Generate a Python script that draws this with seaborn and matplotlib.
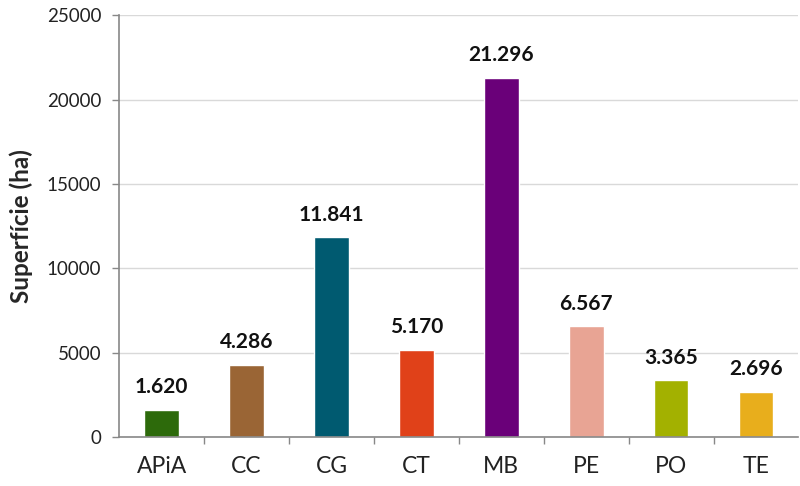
import matplotlib
matplotlib.use("Agg")
import matplotlib.pyplot as plt
import seaborn as sns
import pandas as pd

categories = ["APiA", "CC", "CG", "CT", "MB", "PE", "PO", "TE"]
areas = [1620, 4286, 11841, 5170, 21296, 6567, 3365, 2696]
colors = ["#2D6A0B", "#9A6535", "#005A70", "#E04119", "#6A0079",
          "#E8A494", "#A3B100", "#E8AE1C"]
y_ticks = [0, 5000, 10000, 15000, 20000, 25000]

sns.set_theme(style="white")
plt.rcParams["font.family"] = ["Lato", "DejaVu Sans"]

df = pd.DataFrame({"cat": categories, "area": areas})

fig = plt.figure(figsize=(8, 4.86), dpi=100)
ax = fig.add_axes([0.149, 0.1008, 0.849, 0.868])

sns.barplot(data=df, x="cat", y="area", hue="cat", palette=colors,
            legend=False, width=0.41, saturation=1, ax=ax)

ax.set_ylim(0, 25000)
ax.set_yticks(y_ticks)
ax.set_yticklabels([str(t) for t in y_ticks], fontsize=13.5, color="#222222")
ax.set_xlim(-0.5, len(categories) - 0.5)
ax.tick_params(axis="x", labelsize=16.5, colors="#222222", length=0, pad=14)
ax.tick_params(axis="y", length=5, width=1, color="#888888", pad=8, direction="out", left=True)

# tick marks on category boundaries
ax.set_xticks([i - 0.5 for i in range(1, len(categories))], minor=True)
ax.tick_params(axis="x", which="minor", length=5, width=1, color="#888888", bottom=True)

ax.yaxis.grid(True, color="#D9D9D9", linewidth=1)
ax.set_axisbelow(True)
for side in ("top", "right"):
    ax.spines[side].set_visible(False)
for side in ("left", "bottom"):
    ax.spines[side].set_color("#888888")
    ax.spines[side].set_linewidth(1.2)

ax.set_xlabel("")
ax.set_ylabel("Superfície (ha)", fontsize=17.5, fontweight="bold", labelpad=10)

for i, v in enumerate(areas):
    label = f"{v:,}".replace(",", ".")
    ax.annotate(label, (i, v), xytext=(0, 9), textcoords="offset points",
                ha="center", va="bottom", fontsize=15, fontweight="bold",
                color="#111111")

fig.savefig("out.png", dpi=100)
